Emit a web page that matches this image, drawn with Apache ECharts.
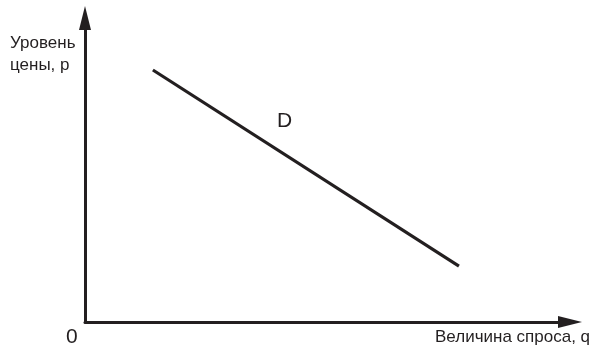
<!DOCTYPE html>
<html>
<head>
<meta charset="utf-8">
<script src="https://cdn.jsdelivr.net/npm/echarts@6/dist/echarts.min.js"></script>
<style>
  html, body { margin: 0; padding: 0; background: #fff; }
  #chart { width: 594px; height: 349px; }
</style>
</head>
<body>
<div id="chart"></div>
<script>
// кривая спроса D: количество q и цена p (условные единицы, оси 0..100)
const demandQ = [14.0, 77.1];
const demandP = [82.9, 18.4];
const curveLabel = 'D';
const xTitle = 'Величина спроса, q';
const yTitle = 'Уровень\nцены, p';
const originLabel = '0';

const ink = '#231f20';
const font = '"Liberation Sans", Arial, sans-serif';

const chart = echarts.init(document.getElementById('chart'));

const axisCommon = {
  type: 'value',
  min: 0,
  max: 100,
  axisLine: {
    show: true,
    symbol: ['none', 'triangle'],
    symbolSize: [12, 24],
    lineStyle: { color: ink, width: 3 }
  },
  axisTick: { show: false },
  axisLabel: { show: false },
  splitLine: { show: false }
};

chart.setOption({
  animation: false,
  grid: { left: 85, right: 24, top: 18, bottom: 27 },
  xAxis: axisCommon,
  yAxis: axisCommon,
  series: [{
    type: 'line',
    data: demandQ.map((q, i) => [q, demandP[i]]),
    symbol: 'none',
    lineStyle: { color: ink, width: 3.2, cap: 'butt' }
  }],
  graphic: [
    {
      type: 'text', left: 10, top: 32,
      style: { text: yTitle, font: '17px ' + font, fill: ink, lineHeight: 22 }
    },
    {
      type: 'text', left: 66, top: 327,
      style: { text: originLabel, font: '21px ' + font, fill: ink }
    },
    {
      type: 'text', left: 435, top: 329,
      style: { text: xTitle, font: '17px ' + font, fill: ink }
    },
    {
      type: 'text', left: 277, top: 111,
      style: { text: curveLabel, font: '21px ' + font, fill: ink }
    }
  ]
});
</script>
</body>
</html>
